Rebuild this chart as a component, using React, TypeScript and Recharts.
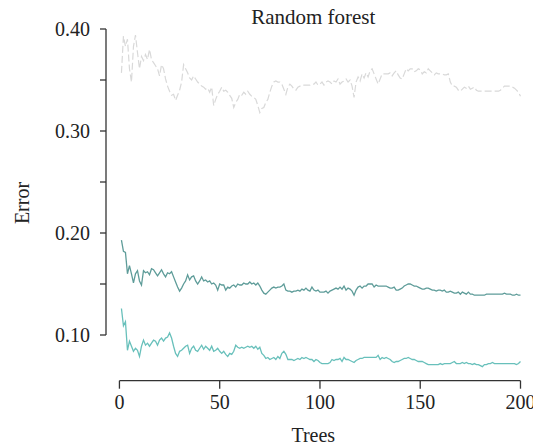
import React from "react";
import { LineChart, Line, XAxis, YAxis, ReferenceLine } from "recharts";

// error per number of trees (trees 1..200)
const oobError = [
  0.357, 0.393, 0.383, 0.39, 0.361, 0.348, 0.383, 0.394, 0.377, 0.361,
  0.373, 0.369, 0.375, 0.37, 0.38, 0.37, 0.367, 0.364, 0.361, 0.354,
  0.365, 0.361, 0.351, 0.344, 0.339, 0.335, 0.336, 0.33, 0.335, 0.34,
  0.348, 0.365, 0.361, 0.357, 0.352, 0.35, 0.354, 0.351, 0.348, 0.346,
  0.344, 0.343, 0.341, 0.342, 0.338, 0.343, 0.325, 0.331, 0.336, 0.339,
  0.343, 0.339, 0.34, 0.338, 0.335, 0.332, 0.323, 0.328, 0.331, 0.336,
  0.335, 0.338, 0.336, 0.339, 0.336, 0.334, 0.333, 0.331, 0.325, 0.318,
  0.322, 0.323, 0.328, 0.331, 0.338, 0.344, 0.348, 0.349, 0.348, 0.348,
  0.346, 0.341, 0.336, 0.343, 0.346, 0.344, 0.341, 0.34, 0.343, 0.344,
  0.344, 0.345, 0.345, 0.345, 0.345, 0.346, 0.346, 0.348, 0.345, 0.346,
  0.348, 0.345, 0.348, 0.349, 0.348, 0.346, 0.349, 0.348, 0.351, 0.346,
  0.348, 0.349, 0.351, 0.348, 0.35, 0.344, 0.333, 0.348, 0.353, 0.349,
  0.356, 0.352, 0.357, 0.353, 0.359, 0.361, 0.356, 0.351, 0.346, 0.351,
  0.356, 0.356, 0.356, 0.356, 0.357, 0.354, 0.357, 0.359, 0.355, 0.352,
  0.351, 0.356, 0.361, 0.359, 0.361, 0.361, 0.358, 0.359, 0.361, 0.36,
  0.356, 0.358, 0.357, 0.361, 0.359, 0.357, 0.355, 0.357, 0.356, 0.356,
  0.356, 0.355, 0.355, 0.356, 0.348, 0.344, 0.344, 0.343, 0.34, 0.339,
  0.341, 0.343, 0.342, 0.344, 0.341, 0.342, 0.343, 0.34, 0.339, 0.339,
  0.339, 0.339, 0.339, 0.339, 0.339, 0.339, 0.339, 0.339, 0.339, 0.34,
  0.342, 0.344, 0.344, 0.344, 0.344, 0.343, 0.342, 0.34, 0.338, 0.334,
];

const classAError = [
  0.193, 0.182, 0.181, 0.16, 0.168, 0.16, 0.151, 0.16, 0.163, 0.153,
  0.149, 0.163, 0.161, 0.162, 0.159, 0.165, 0.164, 0.161, 0.158, 0.161,
  0.164, 0.16, 0.157, 0.161, 0.16, 0.162, 0.157, 0.152, 0.147, 0.143,
  0.146, 0.15, 0.153, 0.159, 0.154, 0.157, 0.158, 0.153, 0.15, 0.153,
  0.157, 0.153, 0.154, 0.152, 0.153, 0.15, 0.151, 0.149, 0.144, 0.15,
  0.149, 0.149, 0.144, 0.147, 0.146, 0.148, 0.149, 0.147, 0.15, 0.149,
  0.149, 0.151, 0.15, 0.15, 0.152, 0.15, 0.151, 0.149, 0.151, 0.148,
  0.144, 0.141, 0.14, 0.142, 0.144, 0.146, 0.147, 0.146, 0.147, 0.147,
  0.148, 0.15, 0.144, 0.143, 0.143, 0.142, 0.143, 0.143, 0.144, 0.143,
  0.145, 0.144, 0.146, 0.144, 0.143, 0.147, 0.144, 0.143, 0.144, 0.142,
  0.142, 0.142, 0.143, 0.141, 0.143, 0.144, 0.145, 0.146, 0.145, 0.147,
  0.145, 0.148, 0.144, 0.146, 0.145, 0.143, 0.139, 0.144, 0.147, 0.148,
  0.146, 0.148, 0.148, 0.15, 0.15, 0.15, 0.147, 0.149, 0.148, 0.148,
  0.148, 0.148, 0.148, 0.147, 0.146, 0.146, 0.147, 0.144, 0.144, 0.145,
  0.146, 0.148, 0.149, 0.15, 0.15, 0.149, 0.148, 0.148, 0.147, 0.146,
  0.145, 0.145, 0.146, 0.146, 0.145, 0.144, 0.144, 0.143, 0.144, 0.144,
  0.143, 0.144, 0.142, 0.142, 0.143, 0.142, 0.141, 0.141, 0.142, 0.14,
  0.142, 0.141, 0.14, 0.142, 0.14, 0.14, 0.139, 0.139, 0.139, 0.139,
  0.139, 0.139, 0.14, 0.14, 0.14, 0.14, 0.14, 0.14, 0.14, 0.14,
  0.14, 0.141, 0.14, 0.14, 0.14, 0.139, 0.139, 0.14, 0.139, 0.139,
];

const classBError = [
  0.126, 0.109, 0.113, 0.085, 0.094, 0.089, 0.084, 0.087, 0.085, 0.079,
  0.089, 0.095, 0.09, 0.092, 0.089, 0.092, 0.095, 0.094, 0.09, 0.095,
  0.097, 0.094, 0.097, 0.098, 0.102, 0.097, 0.089, 0.082, 0.079, 0.084,
  0.085, 0.087, 0.089, 0.09, 0.082, 0.087, 0.089, 0.085, 0.084, 0.087,
  0.09, 0.086, 0.089, 0.087, 0.085, 0.089, 0.084, 0.085, 0.087, 0.084,
  0.082, 0.084, 0.081, 0.079, 0.082, 0.081, 0.084, 0.09, 0.088, 0.087,
  0.088, 0.087, 0.088, 0.089, 0.088, 0.089, 0.087, 0.089, 0.086, 0.088,
  0.082, 0.08, 0.077, 0.078, 0.076, 0.077, 0.078, 0.076, 0.079, 0.077,
  0.082, 0.084, 0.081, 0.076, 0.076, 0.076, 0.075, 0.076, 0.077, 0.076,
  0.078, 0.077, 0.078, 0.077, 0.076, 0.076, 0.074, 0.076, 0.075, 0.073,
  0.072, 0.072, 0.072, 0.072, 0.073, 0.076, 0.075, 0.076, 0.076, 0.077,
  0.074, 0.078, 0.076, 0.076, 0.075, 0.074, 0.073, 0.075, 0.076, 0.077,
  0.077, 0.078, 0.078, 0.078, 0.078, 0.078, 0.078, 0.078, 0.08, 0.076,
  0.078, 0.077, 0.078, 0.077, 0.076, 0.074, 0.073, 0.074, 0.074, 0.075,
  0.076, 0.077, 0.077, 0.078, 0.077, 0.076, 0.076, 0.075, 0.074, 0.074,
  0.074, 0.073, 0.072, 0.071, 0.071, 0.071, 0.071, 0.071, 0.071, 0.072,
  0.071, 0.072, 0.072, 0.072, 0.072, 0.073, 0.074, 0.072, 0.072, 0.072,
  0.073, 0.072, 0.073, 0.072, 0.072, 0.071, 0.072, 0.071, 0.071, 0.07,
  0.069, 0.071, 0.071, 0.072, 0.072, 0.073, 0.072, 0.072, 0.072, 0.072,
  0.072, 0.072, 0.072, 0.072, 0.072, 0.072, 0.072, 0.071, 0.072, 0.074,
];

const xTicks = [0, 50, 100, 150, 200];
const yTicks = [0.1, 0.15, 0.2, 0.25, 0.3, 0.35, 0.4];

const data = oobError.map((v, i) => ({
  trees: i + 1,
  oob: v,
  a: classAError[i],
  b: classBError[i],
}));

const font = "'Liberation Serif', 'DejaVu Serif', serif";
const axisColor = "#333";
const xMin = -6.7;
const yMin = 0.0552;

const fmtY = (v: number) =>
  Math.round(v * 100) % 10 === 0 ? v.toFixed(2) : "";

export default function App() {
  return (
    <div style={{ position: "relative", width: 533, height: 440, fontFamily: font }}>
      <div
        style={{
          position: "absolute",
          left: 98,
          width: 414.5,
          top: -3,
          textAlign: "center",
          fontSize: 21,
          color: "#222",
        }}
      >
        Random forest
      </div>
      <LineChart
        width={533}
        height={440}
        data={data}
        margin={{ top: 21, right: 20.5, left: 38, bottom: 27.3 }}
      >
        <XAxis
          dataKey="trees"
          type="number"
          domain={[xMin, 200]}
          ticks={xTicks}
          axisLine={false}
          tickSize={8}
          tickMargin={6}
          tickLine={{ stroke: axisColor, strokeWidth: 1.3 }}
          tick={{ fill: "#222", fontSize: 20, fontFamily: font }}
          height={40}
        />
        <YAxis
          type="number"
          domain={[yMin, 0.4]}
          ticks={yTicks}
          tickFormatter={fmtY}
          axisLine={false}
          tickSize={6}
          tickMargin={10}
          tickLine={{ stroke: axisColor, strokeWidth: 1.3 }}
          tick={{ fill: "#222", fontSize: 20, fontFamily: font }}
          width={60}
          allowDataOverflow
        />
        <ReferenceLine
          segment={[{ x: xMin, y: 0.1 }, { x: xMin, y: 0.4 }]}
          stroke={axisColor}
          strokeWidth={1.3}
          ifOverflow="visible"
        />
        <ReferenceLine
          segment={[{ x: 0, y: yMin }, { x: 200, y: yMin }]}
          stroke={axisColor}
          strokeWidth={1.3}
          ifOverflow="visible"
        />
        <Line
          dataKey="oob"
          stroke="#d9d9d9"
          strokeWidth={1.2}
          strokeDasharray="7 3"
          dot={false}
          isAnimationActive={false}
        />
        <Line
          dataKey="a"
          stroke="#5e9c99"
          strokeWidth={1.3}
          dot={false}
          isAnimationActive={false}
        />
        <Line
          dataKey="b"
          stroke="#68c0bb"
          strokeWidth={1.3}
          dot={false}
          isAnimationActive={false}
        />
      </LineChart>
      <div
        style={{
          position: "absolute",
          left: 98,
          width: 414.5,
          top: 416,
          textAlign: "center",
          fontSize: 20,
          color: "#222",
        }}
      >
        Trees
      </div>
      <div
        style={{
          position: "absolute",
          left: 13.7,
          top: 194.5,
          transform: "translate(-50%, -50%) rotate(-90deg)",
          fontSize: 20,
          color: "#222",
        }}
      >
        Error
      </div>
    </div>
  );
}
